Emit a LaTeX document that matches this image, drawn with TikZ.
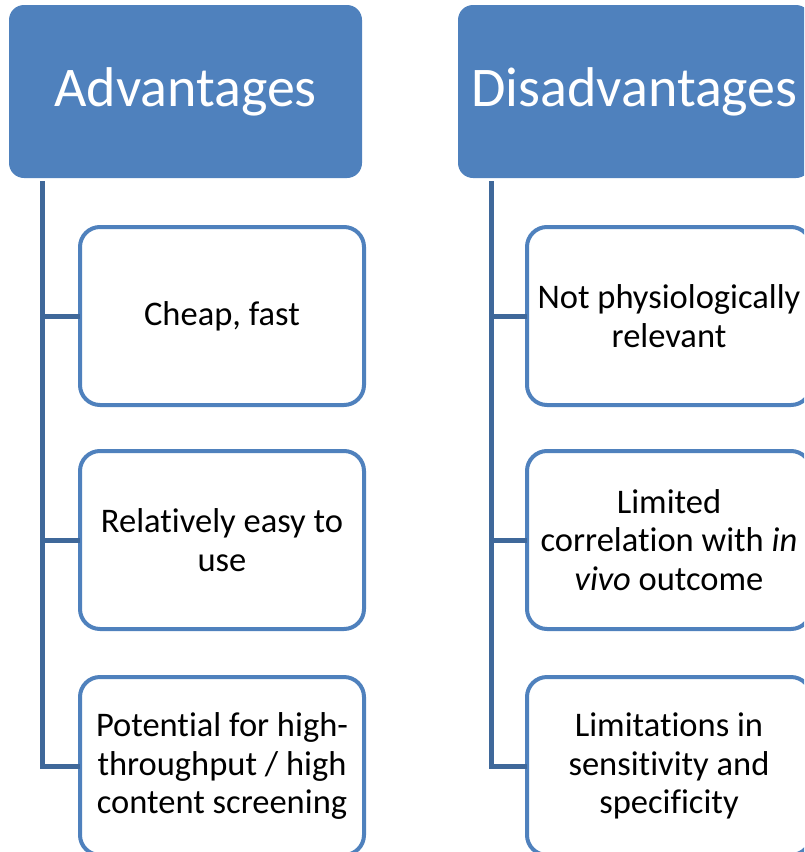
\documentclass[tikz,border=0pt]{standalone}
\usepackage{fontspec}
\setmainfont[Ligatures={NoCommon,NoContextual},Contextuals=NoAlternate,RawFeature={-liga;-clig;-calt}]{Carlito}
\definecolor{hdr}{RGB}{79,129,189}
\definecolor{conn}{RGB}{63,104,154}
\begin{document}
\begin{tikzpicture}[x=1pt,y=-1pt,
 header/.style={fill=hdr, rounded corners=15pt, minimum width=353pt, minimum height=173pt, inner sep=0pt, outer sep=0pt, text=white, font=\fontsize{56}{66}\selectfont},
 item/.style={draw=hdr, line width=4pt, fill=white, rounded corners=20pt, minimum width=284pt, minimum height=178pt, inner sep=0pt, outer sep=0pt, align=center, font=\fontsize{34.5}{38.5}\selectfont},
 link/.style={draw=conn, line width=5pt}]
\useasboundingbox (0,0) rectangle (804,852);
\clip (0,0) rectangle (804,852);
\node[header] (hA) at (185.5,91.5) {Advantages};
\node[header] (hD) at (634.5,91.5) {Disadvantages};
\node[item] (a1) at (222,316) {Cheap, fast};
\node[item] (a2) at (222,540) {Relatively easy to\\use};
\node[item] (a3) at (222,766) {Potential for high-\\throughput / high\\content screening};
\node[item] (d1) at (669,316) {Not physiologically\\relevant};
\node[item] (d2) at (669,540) {Limited\\correlation with \textit{in}\\\textit{vivo} outcome};
\node[item] (d3) at (669,766) {Limitations in\\sensitivity and\\specificity};
\coordinate (tA) at ([xshift=33pt,yshift=-3pt]hA.south west);
\coordinate (tD) at ([xshift=33pt,yshift=-3pt]hD.south west);
\draw[link] (tA) |- (a3.west);
\draw[link] (tA |- a1.west) -- (a1.west);
\draw[link] (tA |- a2.west) -- (a2.west);
\draw[link] (tD) |- (d3.west);
\draw[link] (tD |- d1.west) -- (d1.west);
\draw[link] (tD |- d2.west) -- (d2.west);
\end{tikzpicture}
\end{document}
